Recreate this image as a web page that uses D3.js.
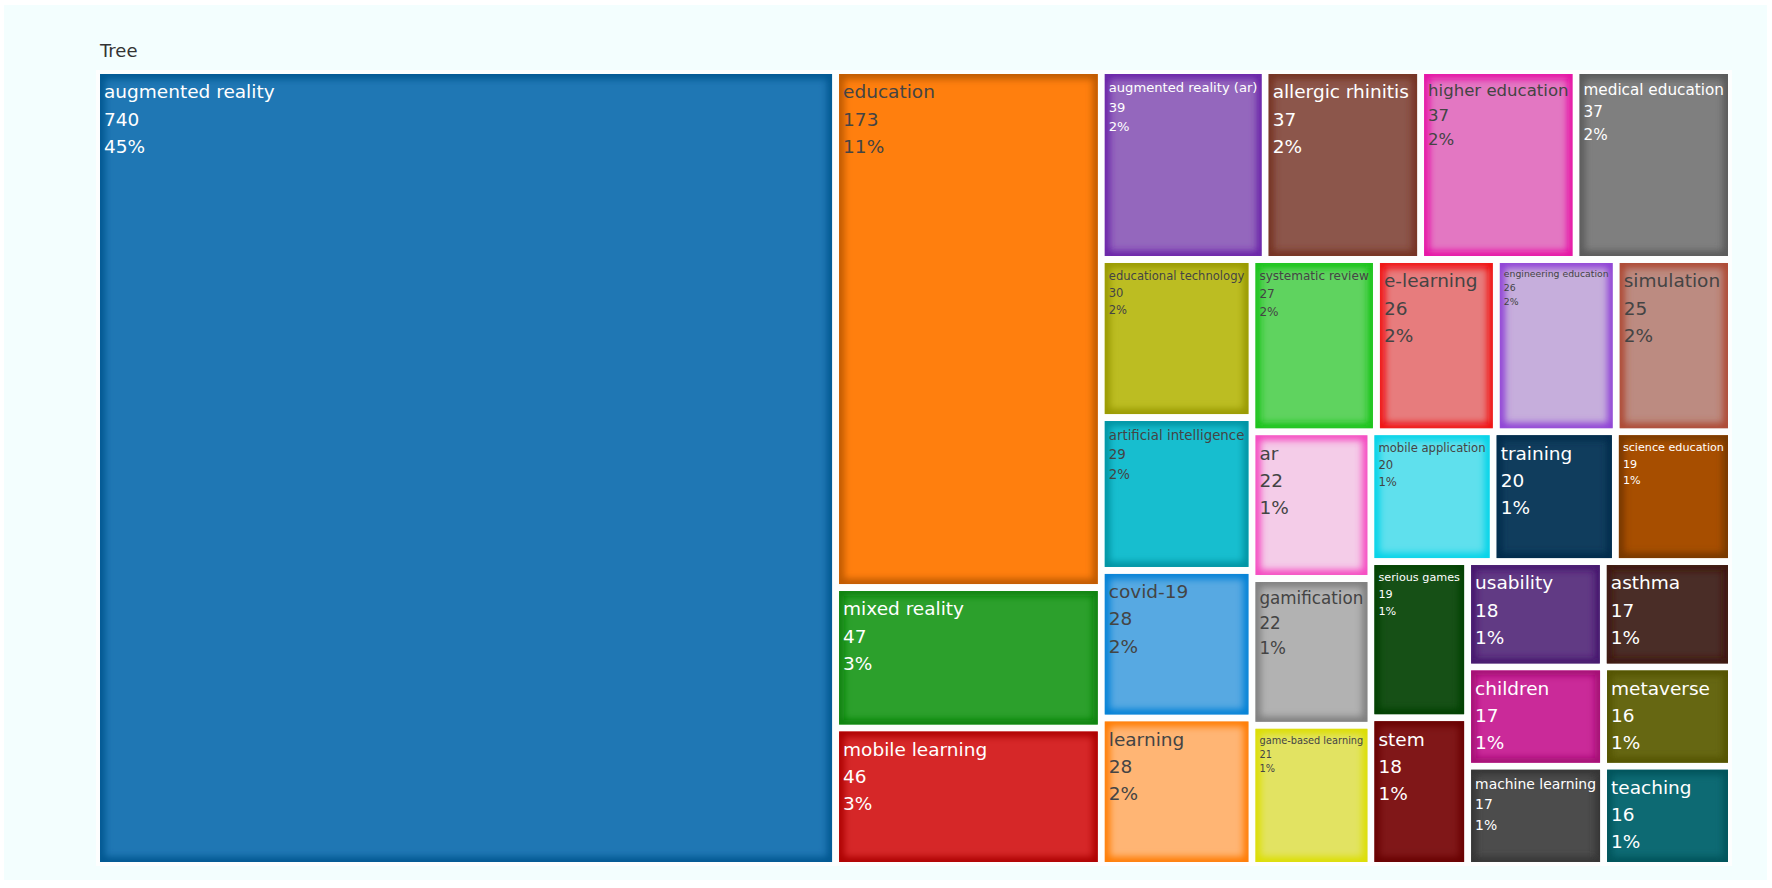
<!DOCTYPE html>
<html>
<head>
<meta charset="utf-8">
<script src="https://cdn.jsdelivr.net/npm/d3@7"></script>
<style>
  html, body { margin: 0; padding: 0; background: #fff; }
  svg { display: block; font-family: "DejaVu Sans", Verdana, sans-serif; }
</style>
</head>
<body>
<svg id="chart" width="1772" height="888"></svg>
<script>
// root label and keyword counts (order as in the source treemap)
const rootLabel = "Tree";
const terms = [
  "augmented reality", "education", "mixed reality", "mobile learning",
  "augmented reality (ar)", "allergic rhinitis", "higher education", "medical education",
  "educational technology", "artificial intelligence", "covid-19", "learning",
  "systematic review", "e-learning", "engineering education", "simulation",
  "ar", "gamification", "game-based learning", "mobile application",
  "training", "science education", "serious games", "stem",
  "usability", "asthma", "children", "machine learning",
  "metaverse", "teaching"
];
const counts = [
  740, 173, 47, 46,
  39, 37, 37, 37,
  30, 29, 28, 28,
  27, 26, 26, 25,
  22, 22, 21, 20,
  20, 19, 19, 18,
  18, 17, 17, 17,
  16, 16
];

const width = 1772, height = 888;
const box = { x0: 100, y0: 74, x1: 1728, y1: 862 };
const gap = 7;
const stretch = 1.12;   // original plot was a bit narrower than the screenshot
const maxFont = 18.5;

const svg = d3.select("#chart");
const defs = svg.append("defs");

// light azure page panel
svg.append("rect")
  .attr("x", 4).attr("y", 5)
  .attr("width", 1763).attr("height", 875)
  .attr("fill", "#f3fefe");

svg.append("rect")
  .attr("x", box.x0 - 4).attr("y", box.y0 - 4)
  .attr("width", box.x1 - box.x0 + 8).attr("height", box.y1 - box.y0 + 8)
  .attr("fill", "#fdfefe");

svg.append("text")
  .attr("x", box.x0).attr("y", 57)
  .attr("font-size", 18)
  .attr("fill", "#333")
  .text(rootLabel);

// plotly-like colorway: category10, then 20% lighter, then 20% darker
const base = d3.schemeCategory10;
const shift = (c, dl) => { const h = d3.hsl(c); h.l = Math.max(0, Math.min(1, h.l + dl)); return h.formatHex(); };
const palette = base.concat(base.map(c => shift(c, 0.2)), base.map(c => shift(c, -0.2)));

const total = d3.sum(counts);

const root = d3.hierarchy({
    name: rootLabel,
    children: terms.map((t, i) => ({ name: t, value: counts[i], idx: i }))
  })
  .sum(d => d.value || 0);

const layoutW = (box.x1 - box.x0 + gap) * stretch;
const layoutH = box.y1 - box.y0 + gap;

d3.treemap()
  .tile(d3.treemapSquarify.ratio(1))
  .size([layoutW, layoutH])(root);

const x = d3.scaleLinear().domain([0, layoutW]).range([box.x0 - gap / 2, box.x1 + gap / 2]);
const y = d3.scaleLinear().domain([0, layoutH]).range([box.y0 - gap / 2, box.y1 + gap / 2]);

defs.append("filter")
  .attr("id", "edgeBlur")
  .attr("x", "-20%").attr("y", "-20%").attr("width", "140%").attr("height", "140%")
  .append("feGaussianBlur").attr("stdDeviation", 3.5);

const isLight = c => { const r = d3.rgb(c); return (r.r * 299 + r.g * 587 + r.b * 114) / 1000 > 128; };

const leaves = root.leaves();

const tile = svg.append("g")
  .selectAll("g")
  .data(leaves)
  .join("g");

tile.each(function(d) {
  const g = d3.select(this);
  const i = d.data.idx;
  const tx = x(d.x0) + gap / 2, ty = y(d.y0) + gap / 2;
  const w = x(d.x1) - x(d.x0) - gap, h = y(d.y1) - y(d.y0) - gap;
  const col = palette[i % palette.length];
  const edge = d3.hsl(col);
  edge.s = Math.min(1, edge.s + 0.25);
  edge.l = edge.l * 0.7;

  defs.append("clipPath").attr("id", "clip" + i)
    .append("rect")
    .attr("x", tx).attr("y", ty)
    .attr("width", w).attr("height", h);

  g.append("rect")
    .attr("x", tx).attr("y", ty)
    .attr("width", w).attr("height", h)
    .attr("fill", col);

  // darker rim along the inside of each tile
  g.append("g")
    .attr("clip-path", "url(#clip" + i + ")")
    .append("rect")
    .attr("x", tx).attr("y", ty)
    .attr("width", w).attr("height", h)
    .attr("fill", "none")
    .attr("stroke", edge.formatHex())
    .attr("stroke-width", 10)
    .attr("filter", "url(#edgeBlur)");

  const lines = [d.data.name, String(d.value), Math.round(d.value / total * 100) + "%"];
  const txt = g.append("text")
    .attr("font-size", maxFont)
    .attr("fill", isLight(col) ? "#444" : "#fff");
  const spans = txt.selectAll("tspan").data(lines).join("tspan").text(s => s);

  const blockW = d3.max(spans.nodes(), n => n.getComputedTextLength());
  const blockH = 4.3 * maxFont;
  const s = Math.min(1, (w - 8) / blockW, (h - 6) / blockH);
  const fs = maxFont * s;

  txt.attr("font-size", fs);
  spans
    .attr("x", tx + 4)
    .attr("y", (_, k) => ty + 4 + 1.1 * fs + k * 1.47 * fs);
});
</script>
</body>
</html>
